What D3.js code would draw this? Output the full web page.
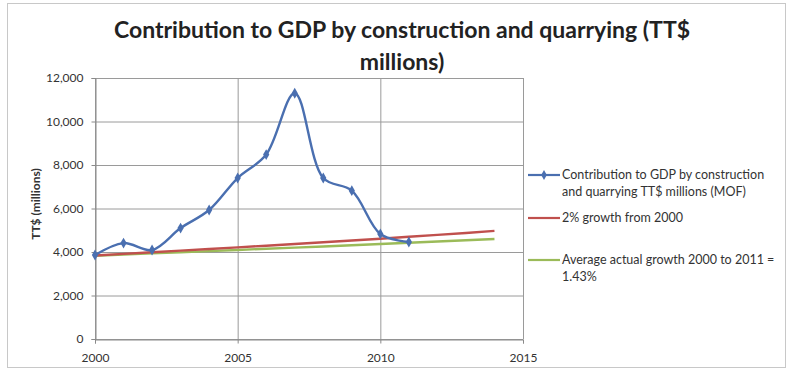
<!DOCTYPE html>
<html>
<head>
<meta charset="utf-8">
<script src="https://d3js.org/d3.v7.min.js"></script>
<style>
  body { margin: 0; background: #fff; }
  text { font-family: Lato, "Open Sans", sans-serif; }
</style>
</head>
<body>
<script>
// values
const years = [2000, 2001, 2002, 2003, 2004, 2005, 2006, 2007, 2008, 2009, 2010, 2011];
const gdp = [3860, 4410, 4090, 5100, 5930, 7400, 8480, 11300, 7400, 6820, 4830, 4460];
const trendYears = [2000, 2001, 2002, 2003, 2004, 2005, 2006, 2007, 2008, 2009, 2010, 2011, 2012, 2013, 2014];
const growth2 = [3840, 3915, 3990, 4065, 4140, 4215, 4290, 4370, 4450, 4530, 4610, 4700, 4785, 4875, 4970];
const growthAvg = [3830, 3885, 3935, 3985, 4040, 4095, 4150, 4200, 4255, 4310, 4365, 4425, 4480, 4540, 4600];
const xTicks = [2000, 2005, 2010, 2015];
const yTicks = [0, 2000, 4000, 6000, 8000, 10000, 12000];
const legendLabels = [
  ["Contribution to GDP by construction", "and quarrying TT$ millions (MOF)"],
  ["2% growth from 2000"],
  ["Average actual growth 2000 to 2011 =", "1.43%"]
];
const colors = ["#4a6fb0", "#c0504d", "#9bbb59"];

const width = 786, height = 370;
const svg = d3.select("body").append("svg")
  .attr("width", width).attr("height", height);

// outer chart frame
svg.append("rect").attr("x", 7.5).attr("y", 3.5)
  .attr("width", width - 8).attr("height", 364)
  .attr("fill", "#fff").attr("stroke", "#c8c8c8");

let x = d3.scaleLinear().domain([2000, 2015]).range([95, 523]);
let y = d3.scaleLinear().domain([0, 12000]).range([339, 78]);

// horizontal gridlines
svg.append("g").selectAll("line").data(yTicks).join("line")
  .attr("x1", x(2000)).attr("x2", x(2015))
  .attr("y1", d => y(d) + 0.5).attr("y2", d => y(d) + 0.5)
  .attr("stroke", "#9a9a9a").attr("stroke-width", 1);

// vertical gridlines
svg.append("g").selectAll("line").data(xTicks).join("line")
  .attr("x1", d => x(d) + 0.5).attr("x2", d => x(d) + 0.5)
  .attr("y1", y(12000)).attr("y2", y(0))
  .attr("stroke", "#9a9a9a").attr("stroke-width", 1);

// y axis
let yAxis = d3.axisLeft(y).tickValues(yTicks).tickSize(4).tickFormat(d3.format(","));
let gy = svg.append("g").attr("transform", "translate(" + (x(2000) + 0.5) + ",0)").call(yAxis);
gy.selectAll("text").attr("font-size", "12px").attr("fill", "#333").attr("dx", "-5");
gy.selectAll("line, path").attr("stroke", "#8a8a8a");

// x axis
let xAxis = d3.axisBottom(x).tickValues(xTicks).tickSize(4).tickFormat(d3.format("d"));
let gx = svg.append("g").attr("transform", "translate(0," + (y(0) + 0.5) + ")").call(xAxis);
gx.selectAll("text").attr("font-size", "12px").attr("fill", "#333").attr("y", 22).attr("dy", 0);
gx.selectAll("line, path").attr("stroke", "#8a8a8a");

// trend lines
let line = d3.line().x((d, i) => x(trendYears[i])).y(d => y(d));
svg.append("path").datum(growthAvg).attr("d", line)
  .attr("fill", "none").attr("stroke", colors[2]).attr("stroke-width", 2.4);
svg.append("path").datum(growth2).attr("d", line)
  .attr("fill", "none").attr("stroke", colors[1]).attr("stroke-width", 2.4);

// main series, smoothed
let smooth = d3.line().curve(d3.curveCatmullRom.alpha(0.5))
  .x((d, i) => x(years[i])).y(d => y(d));
svg.append("path").datum(gdp).attr("d", smooth)
  .attr("fill", "none").attr("stroke", colors[0]).attr("stroke-width", 2.4);
svg.append("g").selectAll("path").data(gdp).join("path")
  .attr("d", d3.symbol().type(d3.symbolDiamond).size(34))
  .attr("transform", (d, i) => "translate(" + x(years[i]) + "," + y(d) + ")")
  .attr("fill", colors[0]);

// title
let title = svg.append("text").attr("text-anchor", "middle")
  .attr("font-size", "23px").attr("font-weight", "bold").attr("fill", "#222");
title.append("tspan").attr("x", 402).attr("y", 38).text("Contribution to GDP by construction and quarrying (TT$");
title.append("tspan").attr("x", 402).attr("y", 70).text("millions)");

// y axis title
svg.append("text").attr("transform", "translate(40,204) rotate(-90)")
  .attr("text-anchor", "middle").attr("font-size", "12px").attr("font-weight", "bold")
  .attr("fill", "#333").text("TT$ (millions)");

// legend
let legendY = [175, 218, 260];
let lg = svg.append("g").selectAll("g").data(legendLabels).join("g")
  .attr("transform", (d, i) => "translate(528," + legendY[i] + ")");
lg.append("line").attr("x1", 0).attr("x2", 32).attr("y1", 0).attr("y2", 0)
  .attr("stroke", (d, i) => colors[i]).attr("stroke-width", 2.2);
lg.filter((d, i) => i === 0).append("path")
  .attr("d", d3.symbol().type(d3.symbolDiamond).size(28))
  .attr("transform", "translate(16,0)").attr("fill", colors[0]);
lg.append("text").attr("font-size", "12.5px").attr("fill", "#333")
  .selectAll("tspan").data(d => d).join("tspan")
  .attr("x", 34).attr("y", (d, i) => 4 + i * 17).text(d => d);
</script>
</body>
</html>
